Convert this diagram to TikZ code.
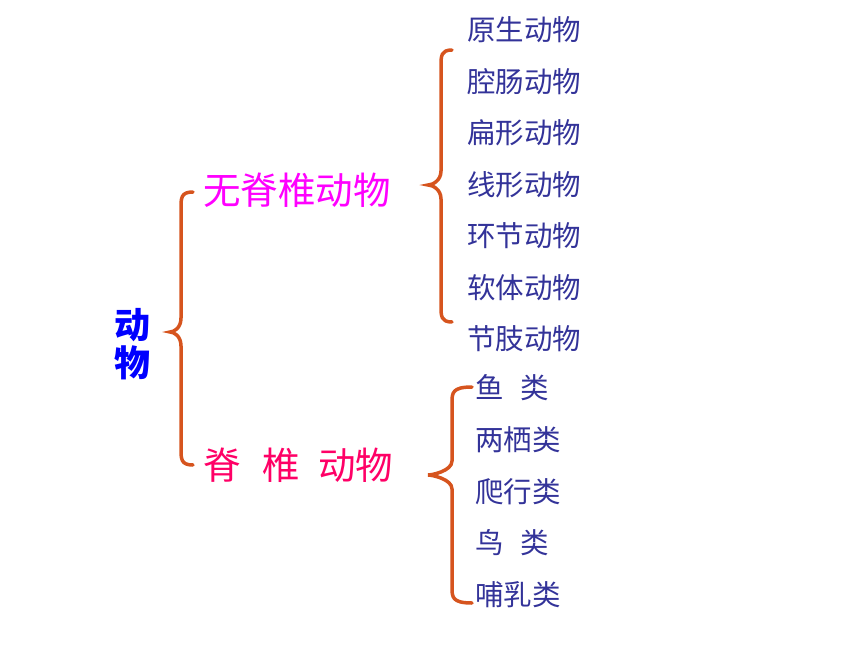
\documentclass[tikz,border=0pt]{standalone}
\usepackage{fontspec}
\newfontfamily\cjk{Noto Sans CJK SC}
\definecolor{listblue}{RGB}{51,51,153}
\definecolor{bracecol}{RGB}{214,84,30}
\definecolor{invcol}{RGB}{255,0,255}
\definecolor{vertcol}{RGB}{255,0,102}
\tikzset{
  item/.style={anchor=west,inner sep=0pt,text=listblue,font=\cjk\fontsize{28.5}{30}\selectfont},
  group/.style={anchor=west,inner sep=0pt,font=\cjk\fontsize{37.5}{40}\selectfont},
  bracket/.style={draw=bracecol,line width=3.5pt,line cap=round}
}
% curly bracket: end x, spine x, tip x, top y, tip y, bottom y
\newcommand{\curlybracket}[6]{%
  \draw[bracket] (#1,#4) .. controls (#2,#4) and (#2,#4+6) .. (#2,#4+16)
    -- (#2,#5-14) .. controls (#2,#5-4) and (#3+4,#5) .. (#3,#5)
    .. controls (#3+4,#5) and (#2,#5+4) .. (#2,#5+14)
    -- (#2,#6-16) .. controls (#2,#6-6) and (#2,#6) .. (#1,#6);}
\begin{document}
\begin{tikzpicture}[x=1pt,y=-1pt]
\useasboundingbox (0,0) rectangle (860,645);

\def\TOPX{467}
\def\BOTX{475}

	\node[font=\cjk\bfseries\fontsize{36}{37}\selectfont,text=blue,align=center,inner sep=0pt] (animal) at (132,344) {动\\[1pt]物};

	\node[group,text=invcol] (invert) at (203,190) {无脊椎动物};
	\node[group,text=vertcol] (vert) at (203,465) {脊\hspace{22pt}椎\hspace{18pt}动物};

	\node[item] (t1) at (\TOPX,30) {原生动物};
	\node[item] (t2) at (\TOPX,81.5) {腔肠动物};
	\node[item] (t3) at (\TOPX,133) {扁形动物};
	\node[item] (t4) at (\TOPX,184.5) {线形动物};
	\node[item] (t5) at (\TOPX,236) {环节动物};
	\node[item] (t6) at (\TOPX,287.5) {软体动物};
	\node[item] (t7) at (\TOPX,339) {节肢动物};

	\node[item] (b1) at (\BOTX,388) {鱼\hspace{17pt}类};
	\node[item] (b2) at (\BOTX,440) {两栖类};
	\node[item] (b3) at (\BOTX,491.5) {爬行类};
	\node[item] (b4) at (\BOTX,543) {鸟\hspace{17pt}类};
	\node[item] (b5) at (\BOTX,594.5) {哺乳类};

	\curlybracket{193}{181}{170}{192}{332}{465}
	\curlybracket{452}{441}{428}{50}{185}{322}
	\curlybracket{472}{452}{428}{387}{475}{603}

\end{tikzpicture}
\end{document}
